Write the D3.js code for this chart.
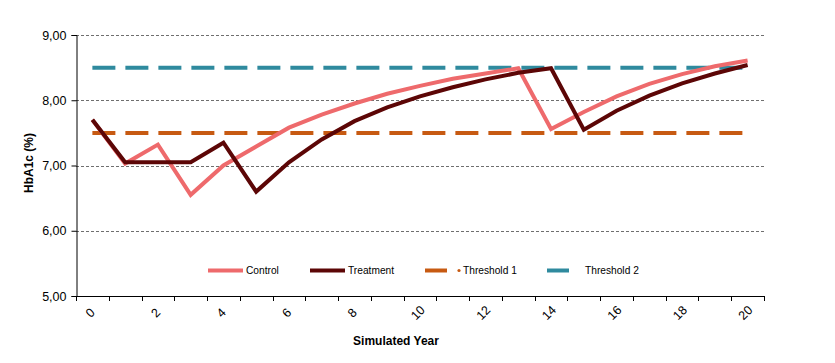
<!DOCTYPE html>
<html>
<head>
<meta charset="utf-8">
<script src="https://cdn.jsdelivr.net/npm/d3@7"></script>
<style>
body { margin: 0; background: #fff; }
svg { display: block; font-family: "Liberation Sans", Arial, sans-serif; }
</style>
</head>
<body>
<svg id="chart" width="835" height="363"></svg>
<script>
const years = d3.range(0, 21);
const control = [7.70, 7.03, 7.32, 6.55, 7.00, 7.29, 7.58, 7.78, 7.95, 8.10, 8.22, 8.33, 8.41, 8.49, 7.56, 7.82, 8.06, 8.25, 8.40, 8.52, 8.61];
const treatment = [7.70, 7.05, 7.05, 7.05, 7.35, 6.60, 7.05, 7.40, 7.68, 7.89, 8.06, 8.20, 8.32, 8.42, 8.49, 7.55, 7.84, 8.07, 8.26, 8.41, 8.54];
const threshold1 = 7.5;
const threshold2 = 8.5;
const yTicks = [5, 6, 7, 8, 9];
const xTickLabels = [0, 2, 4, 6, 8, 10, 12, 14, 16, 18, 20];
const seriesNames = ["Control", "Treatment", "Threshold 1", "Threshold 2"];
const colors = { control: "#EE6A6C", treatment: "#5C0606", t1: "#C75A12", t2: "#2F8A9E" };

const svg = d3.select("#chart");
const mLeft = 76, mRight = 764, mTop = 35, mBottom = 296;

const x = d3.scaleBand().domain(years).range([mLeft, mRight]).padding(0);
const cx = d => x(d) + x.bandwidth() / 2;
const y = d3.scaleLinear().domain([5, 9]).range([mBottom, mTop]);

// gridlines
svg.append("g").selectAll("line").data(yTicks.filter(v => v > 5)).join("line")
  .attr("x1", mLeft).attr("x2", mRight + 1)
  .attr("y1", d => Math.round(y(d)) + 0.5).attr("y2", d => Math.round(y(d)) + 0.5)
  .attr("stroke", "#6f6f6f").attr("stroke-width", 1).attr("stroke-dasharray", "3,2");

// y axis
const yAxis = d3.axisLeft(y).tickValues(yTicks).tickSize(5).tickPadding(5)
  .tickFormat(d => d3.format(".2f")(d).replace(".", ","));
const gy = svg.append("g").attr("transform", `translate(${mLeft + 0.5},0)`).call(yAxis);
gy.select(".domain").attr("stroke", "#000");
gy.selectAll(".tick line").attr("stroke", "#000");
gy.selectAll("text").attr("font-size", 12.5).attr("fill", "#000").attr("font-family", "Liberation Sans, Arial, sans-serif");

// x axis line & ticks at band boundaries
const gx = svg.append("g");
gx.append("line").attr("x1", mLeft).attr("x2", mRight + 1).attr("y1", mBottom + 0.5).attr("y2", mBottom + 0.5).attr("stroke", "#000");
const bounds = years.map(d => x(d)).concat([x(20) + x.bandwidth()]);
gx.selectAll("line.tk").data(bounds).join("line").attr("class", "tk")
  .attr("x1", d => Math.round(d) + 0.5).attr("x2", d => Math.round(d) + 0.5)
  .attr("y1", mBottom).attr("y2", mBottom + 5).attr("stroke", "#000");
gx.selectAll("text").data(xTickLabels).join("text")
  .attr("transform", d => `translate(${cx(d) - 2},${313}) rotate(-45)`)
  .attr("text-anchor", "middle").attr("dominant-baseline", "central")
  .attr("font-size", 12.5).attr("fill", "#000").text(d => d);

// threshold lines
const thLine = (val, col) => svg.append("line")
  .attr("x1", cx(0)).attr("x2", cx(20)).attr("y1", y(val)).attr("y2", y(val))
  .attr("stroke", col).attr("stroke-width", 4).attr("stroke-dasharray", "23,10");
thLine(threshold1, colors.t1);
thLine(threshold2, colors.t2);

// series lines
const line = d3.line().x((d, i) => cx(years[i])).y(d => y(d));
svg.append("path").datum(control).attr("d", line).attr("fill", "none")
  .attr("stroke", colors.control).attr("stroke-width", 4).attr("stroke-linejoin", "miter");
svg.append("path").datum(treatment).attr("d", line).attr("fill", "none")
  .attr("stroke", colors.treatment).attr("stroke-width", 4).attr("stroke-linejoin", "miter");

// axis titles
svg.append("text").attr("transform", `translate(29,163) rotate(-90)`)
  .attr("text-anchor", "middle").attr("dominant-baseline", "central")
  .attr("font-size", 12).attr("font-weight", "bold").text("HbA1c (%)");
svg.append("text").attr("x", 396).attr("y", 345).attr("text-anchor", "middle")
  .attr("font-size", 12).attr("font-weight", "bold").text("Simulated Year");

// legend
const ly = 270.5;
const lg = svg.append("g").attr("font-size", 10.2);
const legendItems = [
  { name: seriesNames[0], col: colors.control, x1: 208, x2: 243, tx: 246 },
  { name: seriesNames[1], col: colors.treatment, x1: 310, x2: 345, tx: 348 },
  { name: seriesNames[2], col: colors.t1, x1: 425, x2: 447, tx: 463, dot: 459 },
  { name: seriesNames[3], col: colors.t2, x1: 547, x2: 569, tx: 585 }
];
legendItems.forEach(it => {
  lg.append("line").attr("x1", it.x1).attr("x2", it.x2).attr("y1", ly).attr("y2", ly)
    .attr("stroke", it.col).attr("stroke-width", 4);
  if (it.dot) lg.append("circle").attr("cx", it.dot).attr("cy", ly).attr("r", 1.6).attr("fill", it.col);
  lg.append("text").attr("x", it.tx).attr("y", ly).attr("dominant-baseline", "central")
    .attr("fill", "#000").text(it.name);
});
</script>
</body>
</html>
